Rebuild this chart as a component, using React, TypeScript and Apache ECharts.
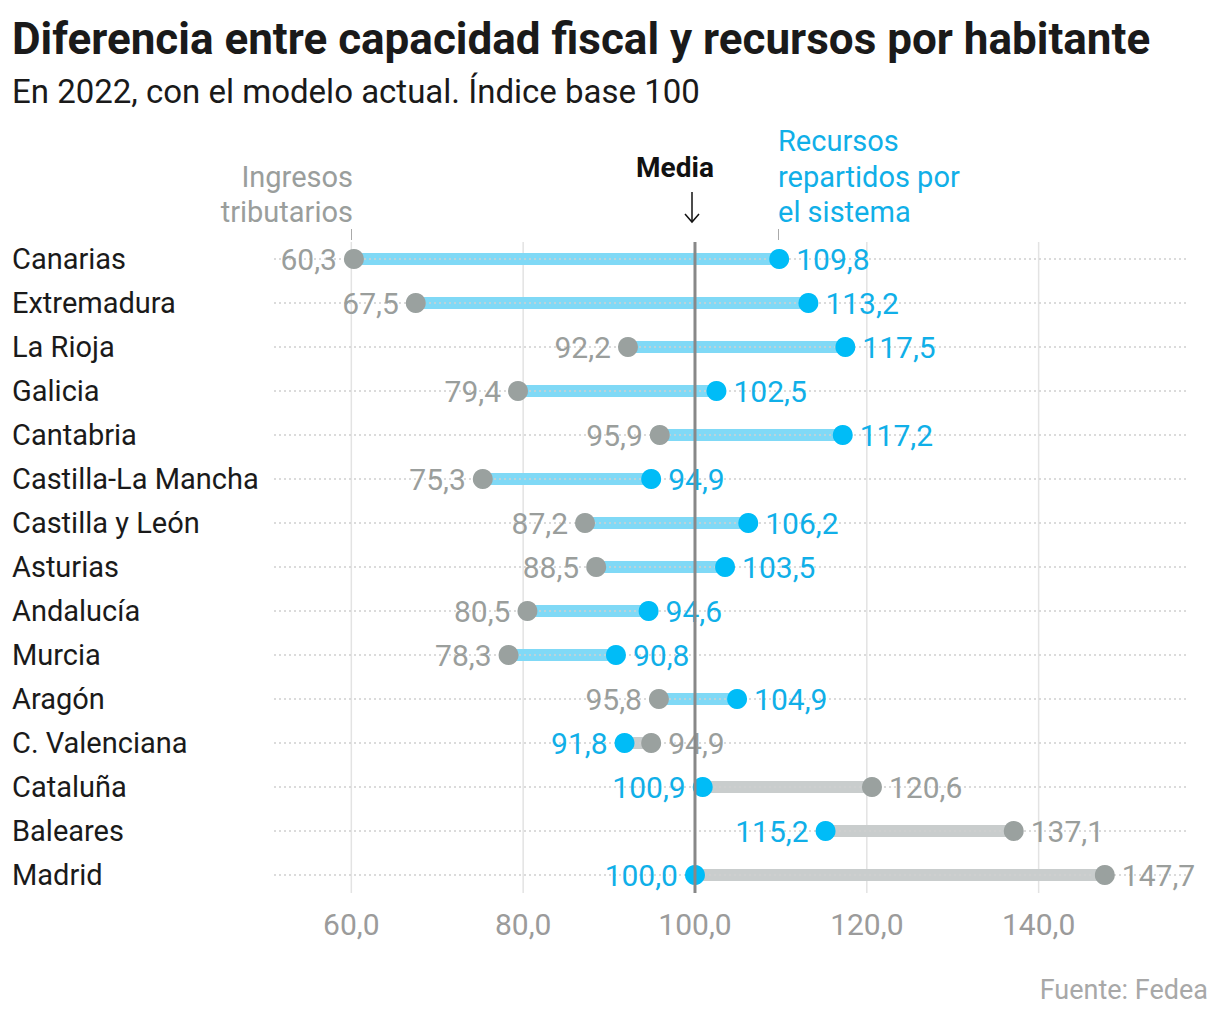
import React, { useEffect, useRef } from "react";
import * as echarts from "echarts";

const categories = [
  "Canarias", "Extremadura", "La Rioja", "Galicia", "Cantabria",
  "Castilla-La Mancha", "Castilla y León", "Asturias", "Andalucía", "Murcia",
  "Aragón", "C. Valenciana", "Cataluña", "Baleares", "Madrid",
];
const ingresos = [60.3, 67.5, 92.2, 79.4, 95.9, 75.3, 87.2, 88.5, 80.5, 78.3, 95.8, 94.9, 120.6, 137.1, 147.7];
const recursos = [109.8, 113.2, 117.5, 102.5, 117.2, 94.9, 106.2, 103.5, 94.6, 90.8, 104.9, 91.8, 100.9, 115.2, 100.0];
const xTicks = [60, 80, 100, 120, 140];
const mediaValue = 100;

const FONT = "Roboto, 'Noto Sans', sans-serif";
const BLUE_DOT = "#00bcf7";
const BLUE_TEXT = "#10afe8";
const BLUE_BAR = "#80d9f6";
const GRAY_DOT = "#9aa19f";
const GRAY_TEXT = "#9a9e9c";
const GRAY_BAR = "#c9cdcd";

const fmt = (v: number) => v.toFixed(1).replace(".", ",");

export default function App() {
  const ref = useRef<HTMLDivElement>(null);
  useEffect(() => {
    if (!ref.current) return;
    const chart = echarts.init(ref.current, null, { renderer: "svg" });
    const option: any = {
      animation: false,
      grid: { left: 274, top: 237, width: 915, height: 660 },
      xAxis: {
        type: "value",
        min: 51,
        max: 157.5,
        axisLine: { show: false },
        axisTick: { show: false, customValues: xTicks },
        splitLine: { show: false },
        axisLabel: {
          customValues: xTicks,
          formatter: (v: number) => fmt(v),
          color: "#9b9b9b",
          fontSize: 30,
          fontFamily: FONT,
          margin: 12,
        },
      },
      yAxis: {
        type: "category",
        data: categories,
        inverse: true,
        axisLine: { show: false },
        axisTick: { show: false },
        splitLine: { show: false },
        axisLabel: {
          align: "left",
          margin: 262,
          color: "#1a1a1a",
          fontSize: 29,
          fontFamily: FONT,
        },
      },
      graphic: [
        {
          type: "text",
          x: 12, y: 39,
          style: {
            text: "Diferencia entre capacidad fiscal y recursos por habitante",
            fontSize: 44, fontWeight: "bold", fontFamily: FONT, fill: "#1a1a1a",
            align: "left", verticalAlign: "middle",
          },
        },
        {
          type: "text",
          x: 12, y: 91,
          style: {
            text: "En 2022, con el modelo actual. Índice base 100",
            fontSize: 33, fontFamily: FONT, fill: "#1a1a1a",
            align: "left", verticalAlign: "middle",
          },
        },
        {
          type: "text",
          x: 353, y: 194,
          style: {
            text: "Ingresos\ntributarios",
            fontSize: 29, lineHeight: 35, fontFamily: FONT, fill: GRAY_TEXT,
            align: "right", verticalAlign: "middle",
          },
        },
        { type: "line", shape: { x1: 351.5, y1: 229, x2: 351.5, y2: 240 }, style: { stroke: "#aaa", lineWidth: 1 } },
        {
          type: "text",
          x: 778, y: 176.5,
          style: {
            text: "Recursos\nrepartidos por\nel sistema",
            fontSize: 29, lineHeight: 35.5, fontFamily: FONT, fill: BLUE_TEXT,
            align: "left", verticalAlign: "middle",
          },
        },
        { type: "line", shape: { x1: 778.5, y1: 229, x2: 778.5, y2: 240 }, style: { stroke: "#aaa", lineWidth: 1 } },
        {
          type: "text",
          x: 675, y: 167,
          style: {
            text: "Media",
            fontSize: 28, fontWeight: "bold", fontFamily: FONT, fill: "#111",
            align: "center", verticalAlign: "middle",
          },
        },
        { type: "line", shape: { x1: 692, y1: 192, x2: 692, y2: 222 }, style: { stroke: "#111", lineWidth: 1.5 } },
        { type: "polyline", shape: { points: [[685, 214], [692, 222], [699, 214]] }, style: { stroke: "#111", lineWidth: 1.5, fill: "none" } },
        {
          type: "text",
          x: 1208, y: 990,
          style: {
            text: "Fuente: Fedea",
            fontSize: 27, fontFamily: FONT, fill: "#a8a8a8",
            align: "right", verticalAlign: "middle",
          },
        },
      ],
      series: [
        {
          name: "vgrid",
          type: "custom",
          z: 1,
          silent: true,
          encode: { x: 0, y: 1 },
          data: xTicks.map((v) => [v, 0]),
          renderItem: (params: any, api: any) => {
            const cs = params.coordSys;
            const x = api.coord([api.value(0), 0])[0];
            return {
              type: "line",
              shape: { x1: x, y1: cs.y + 5, x2: x, y2: cs.y + cs.height - 4 },
              style: { stroke: "#e3e3e3", lineWidth: 1.5 },
            };
          },
        },
        {
          name: "bars",
          type: "custom",
          z: 2,
          silent: true,
          encode: { x: [1, 2], y: 0 },
          data: categories.map((_, i) => [i, ingresos[i], recursos[i]]),
          renderItem: (params: any, api: any) => {
            const i = api.value(0);
            const a = api.value(1);
            const b = api.value(2);
            const p1 = api.coord([a, i]);
            const p2 = api.coord([b, i]);
            return {
              type: "rect",
              shape: { x: Math.min(p1[0], p2[0]), y: p1[1] - 6, width: Math.abs(p2[0] - p1[0]), height: 12 },
              style: { fill: b > a ? BLUE_BAR : GRAY_BAR },
            };
          },
        },
        {
          name: "rows",
          type: "custom",
          z: 3,
          silent: true,
          encode: { x: 1, y: 0 },
          data: categories.map((_, i) => [i, mediaValue]),
          renderItem: (params: any, api: any) => {
            const cs = params.coordSys;
            const y = api.coord([mediaValue, api.value(0)])[1];
            return {
              type: "line",
              shape: { x1: cs.x, y1: y, x2: cs.x + cs.width, y2: y },
              style: { stroke: "#cfcfcf", lineWidth: 1.5, lineDash: [2, 3] },
            };
          },
        },
        {
          name: "Ingresos tributarios",
          type: "scatter",
          z: 4,
          symbolSize: 20,
          itemStyle: { color: GRAY_DOT, opacity: 1 },
          data: ingresos.map((v, i) => ({
            value: [v, i],
            label: { position: v < recursos[i] ? "left" : "right" },
          })),
          label: {
            show: true,
            formatter: (p: any) => fmt(p.value[0]),
            color: GRAY_TEXT,
            fontSize: 30,
            fontFamily: FONT,
            distance: 7,
          },
        },
        {
          name: "Recursos repartidos",
          type: "scatter",
          z: 4,
          symbolSize: 20,
          itemStyle: { color: BLUE_DOT, opacity: 1 },
          data: recursos.map((v, i) => ({
            value: [v, i],
            label: { position: v > ingresos[i] ? "right" : "left" },
          })),
          label: {
            show: true,
            formatter: (p: any) => fmt(p.value[0]),
            color: BLUE_TEXT,
            fontSize: 30,
            fontFamily: FONT,
            distance: 7,
          },
        },
        {
          name: "media",
          type: "custom",
          z: 6,
          silent: true,
          encode: { x: 0, y: 1 },
          data: [[mediaValue, 0]],
          renderItem: (params: any, api: any) => {
            const cs = params.coordSys;
            const x = api.coord([api.value(0), 0])[0];
            return {
              type: "line",
              shape: { x1: x, y1: cs.y + 5, x2: x, y2: cs.y + cs.height - 4 },
              style: { stroke: "#888888", lineWidth: 3 },
            };
          },
        },
      ],
    };
    chart.setOption(option);
    return () => chart.dispose();
  }, []);
  return <div ref={ref} style={{ position: "absolute", left: 0, top: 0, width: 1220, height: 1018 }} />;
}
